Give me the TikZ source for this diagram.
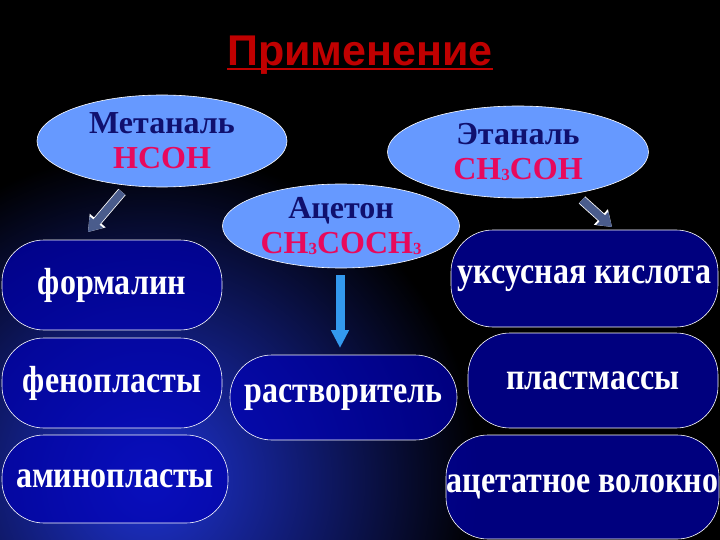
\documentclass[tikz,border=0pt]{standalone}
\usepackage{fontspec}
\usepackage{graphicx}
\setmainfont{Liberation Serif}
\newfontfamily\titlefont{Liberation Sans}
\usetikzlibrary{shapes.geometric,arrows.meta}
\definecolor{ovalfill}{HTML}{6699FF}
\definecolor{ovalink}{HTML}{10106E}
\definecolor{formula}{HTML}{E8095C}
\definecolor{boxfill}{HTML}{0000B4}
\definecolor{titlered}{HTML}{C00000}
\definecolor{arrowslate}{HTML}{4A5C8C}
\definecolor{arrowblue}{HTML}{3399EE}
\definecolor{glow}{HTML}{1E32D2}
\newcommand{\tallword}[1]{\scalebox{1}[1.18]{#1}}
\newcommand{\lowthree}{\raisebox{-1pt}{\fontsize{17}{17}\selectfont 3}}
\tikzset{
  srcoval/.style={ellipse, draw=white, line width=0.6pt, fill=ovalfill, inner sep=0pt,
                  align=center, text=ovalink, font=\bfseries\fontsize{32}{35}\selectfont},
  usebox/.style={draw=white, line width=0.6pt, fill=boxfill, fill opacity=0.7, text opacity=1,
                 text=white, inner sep=0pt, rounded corners=42pt,
                 font=\bfseries\fontsize{32}{36}\selectfont},
  slantedge/.style={draw=arrowslate, line width=8pt, -{Triangle[length=13pt,width=17pt]},
                    preaction={draw=white, line width=9.6pt, -{Triangle[length=15pt,width=20pt]}}},
  downedge/.style={draw=arrowblue, line width=9pt, -{Triangle[length=18pt,width=17pt]}},
}
\begin{document}
\begin{tikzpicture}[x=1pt, y=-1pt]
    \useasboundingbox (0,0) rectangle (720,540);
    \fill[black] (0,0) rectangle (720,540);
    \begin{scope}
      \clip (0,0) rectangle (720,540);
      \shade[inner color=glow, outer color=black] (150,480) circle (330);
    \end{scope}

    \node[anchor=base, inner sep=0pt, text=titlered, font=\titlefont\bfseries\fontsize{43}{50}\selectfont]
      (title) at (360,66) {Применение};
    \draw[titlered, line width=2.5pt] ([yshift=-3pt]title.base west) -- ([yshift=-3pt]title.base east);

    \node[srcoval, minimum width=250pt, minimum height=92pt] (metanal) at (162,141)
      {Метаналь\\\textcolor{formula}{HCOH}};
    \node[srcoval, minimum width=261pt, minimum height=92pt] (etanal) at (518,152)
      {Этаналь\\\textcolor{formula}{CH\lowthree COH}};
    \node[srcoval, minimum width=237pt, minimum height=84pt] (aceton) at (341,226)
      {Ацетон\\\textcolor{formula}{CH\lowthree COCH\lowthree}};

    \node[usebox, minimum width=220pt, minimum height=90pt] (formalin) at (112,285) {\tallword{формалин}};
    \node[usebox, minimum width=220pt, minimum height=90pt] (fenopl) at (112,383) {\tallword{фенопласты}};
    \node[usebox, minimum width=226pt, minimum height=88pt] (aminopl) at (115,479) {\tallword{аминопласты}};
    \node[usebox, minimum width=227pt, minimum height=85pt] (rastv) at (343.5,397.5) {\tallword{растворитель}};
    \node[usebox, minimum width=267pt, minimum height=97pt] (uksus) at (584.5,278.5) {\tallword{уксусная кислота}};
    \node[usebox, minimum width=250pt, minimum height=95pt] (plastm) at (593,380.5) {\tallword{пластмассы}};
    \node[usebox, minimum width=273pt, minimum height=104pt] (acetat) at (582.5,487) {\tallword{ацетатное волокно}};

    \coordinate (metFrom) at (122,192);
    \coordinate (metTo) at (88,232);
    \coordinate (etaFrom) at (582,200);
    \coordinate (etaTo) at (612,227);
    \coordinate (aceFrom) at (340,275);
    \coordinate (aceTo) at (340,348);
    \draw[slantedge] (metFrom) -- (metTo);
    \draw[slantedge] (etaFrom) -- (etaTo);
    \draw[downedge] (aceFrom) -- (aceTo);
  \end{tikzpicture}
\end{document}
